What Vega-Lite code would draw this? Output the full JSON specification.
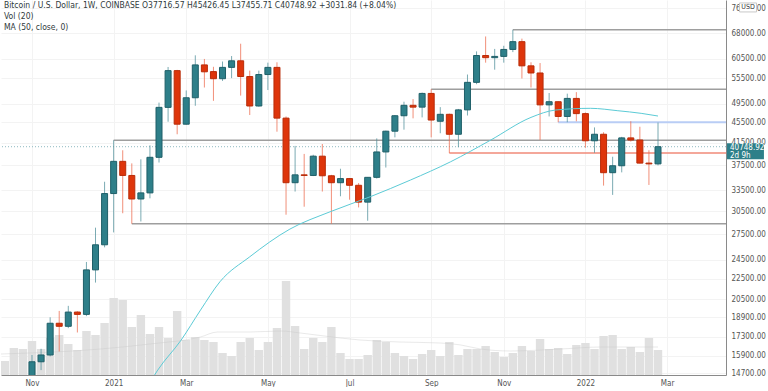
{
  "$schema": "https://vega.github.io/schema/vega-lite/v6.json",
  "width": 725,
  "height": 375,
  "padding": 0,
  "autosize": {"type": "pad"},
  "background": "white",
  "config": {
    "view": {"stroke": null},
    "font": "Liberation Sans Narrow, DejaVu Sans Condensed, Liberation Sans, sans-serif"
  },
  "title": {
    "text": "Bitcoin / U.S. Dollar, 1W, COINBASE  O37716.57  H45426.45  L37455.71  C40748.92  +3031.84 (+8.04%)",
    "subtitle": ["Vol (20)", "MA (50, close, 0)"],
    "anchor": "start",
    "frame": "group",
    "orient": "top",
    "offset": -31,
    "dx": 3,
    "fontSize": 8.5,
    "fontWeight": "normal",
    "color": "#2f3a3c",
    "subtitleFontSize": 8.5,
    "subtitleColor": "#2f3a3c",
    "subtitlePadding": 3,
    "subtitleLineHeight": 10.5,
    "font": "Liberation Sans Narrow, DejaVu Sans Condensed, Liberation Sans, sans-serif",
    "subtitleFont": "Liberation Sans Narrow, DejaVu Sans Condensed, Liberation Sans, sans-serif"
  },
  "datasets": {
    "candles": [
      {"date": "2020-11-02", "open": 13550, "high": 15950, "low": 13250, "close": 15470},
      {"date": "2020-11-09", "open": 15470, "high": 16400, "low": 14900, "close": 15950},
      {"date": "2020-11-16", "open": 15950, "high": 18900, "low": 15850, "close": 18400},
      {"date": "2020-11-23", "open": 18400, "high": 19450, "low": 16200, "close": 18150},
      {"date": "2020-11-30", "open": 18150, "high": 19900, "low": 18000, "close": 19350},
      {"date": "2020-12-07", "open": 19350, "high": 19420, "low": 17650, "close": 19150},
      {"date": "2020-12-14", "open": 19150, "high": 24250, "low": 19000, "close": 23400},
      {"date": "2020-12-21", "open": 23400, "high": 28300, "low": 22100, "close": 26200},
      {"date": "2020-12-28", "open": 26200, "high": 34800, "low": 25900, "close": 33000},
      {"date": "2021-01-04", "open": 33000, "high": 41950, "low": 27700, "close": 38150},
      {"date": "2021-01-11", "open": 38150, "high": 40100, "low": 30200, "close": 35800},
      {"date": "2021-01-18", "open": 35800, "high": 37800, "low": 28800, "close": 32200},
      {"date": "2021-01-25", "open": 32200, "high": 38500, "low": 29100, "close": 33100},
      {"date": "2021-02-01", "open": 33100, "high": 41000, "low": 32300, "close": 38850},
      {"date": "2021-02-08", "open": 38850, "high": 49700, "low": 37950, "close": 48650},
      {"date": "2021-02-15", "open": 48650, "high": 58350, "low": 45600, "close": 57400},
      {"date": "2021-02-22", "open": 57400, "high": 57600, "low": 43100, "close": 45100},
      {"date": "2021-03-01", "open": 45100, "high": 52500, "low": 45000, "close": 50800},
      {"date": "2021-03-08", "open": 50800, "high": 61500, "low": 49000, "close": 58900},
      {"date": "2021-03-15", "open": 58900, "high": 60500, "low": 53200, "close": 57100},
      {"date": "2021-03-22", "open": 57150, "high": 58400, "low": 50100, "close": 55350},
      {"date": "2021-03-29", "open": 55350, "high": 59800, "low": 54800, "close": 58250},
      {"date": "2021-04-05", "open": 58250, "high": 61300, "low": 55500, "close": 60000},
      {"date": "2021-04-12", "open": 60000, "high": 64800, "low": 51300, "close": 55900},
      {"date": "2021-04-19", "open": 55900, "high": 57400, "low": 47000, "close": 48950},
      {"date": "2021-04-26", "open": 48950, "high": 57400, "low": 48800, "close": 56400},
      {"date": "2021-05-03", "open": 56400, "high": 59500, "low": 52600, "close": 58250},
      {"date": "2021-05-10", "open": 58250, "high": 59600, "low": 43600, "close": 46350},
      {"date": "2021-05-17", "open": 46350, "high": 46700, "low": 30000, "close": 34650},
      {"date": "2021-05-24", "open": 34650, "high": 40900, "low": 33300, "close": 35900},
      {"date": "2021-05-31", "open": 35900, "high": 39450, "low": 31100, "close": 35800},
      {"date": "2021-06-07", "open": 35800, "high": 39300, "low": 35700, "close": 39050},
      {"date": "2021-06-14", "open": 39050, "high": 41250, "low": 33300, "close": 35750},
      {"date": "2021-06-21", "open": 35750, "high": 35900, "low": 28800, "close": 34650},
      {"date": "2021-06-28", "open": 34650, "high": 36900, "low": 32600, "close": 35300},
      {"date": "2021-07-05", "open": 35300, "high": 35400, "low": 32100, "close": 34250},
      {"date": "2021-07-12", "open": 34250, "high": 34600, "low": 31000, "close": 31750},
      {"date": "2021-07-19", "open": 31750, "high": 35550, "low": 29200, "close": 35500},
      {"date": "2021-07-26", "open": 35500, "high": 42300, "low": 35300, "close": 39800},
      {"date": "2021-08-02", "open": 39800, "high": 43800, "low": 37100, "close": 43700},
      {"date": "2021-08-09", "open": 43700, "high": 47000, "low": 42500, "close": 46850},
      {"date": "2021-08-16", "open": 46850, "high": 49900, "low": 44000, "close": 49100},
      {"date": "2021-08-23", "open": 49100, "high": 50500, "low": 46300, "close": 48700},
      {"date": "2021-08-30", "open": 48700, "high": 52000, "low": 46500, "close": 51800},
      {"date": "2021-09-06", "open": 51800, "high": 52800, "low": 42500, "close": 45950},
      {"date": "2021-09-13", "open": 45700, "high": 48700, "low": 43300, "close": 47150},
      {"date": "2021-09-20", "open": 47150, "high": 47300, "low": 39600, "close": 43100},
      {"date": "2021-09-27", "open": 43100, "high": 48300, "low": 40650, "close": 48100},
      {"date": "2021-10-04", "open": 48100, "high": 56400, "low": 46900, "close": 54450},
      {"date": "2021-10-11", "open": 54450, "high": 62600, "low": 54000, "close": 61450},
      {"date": "2021-10-18", "open": 61450, "high": 66950, "low": 59500, "close": 60850},
      {"date": "2021-10-25", "open": 60850, "high": 63300, "low": 57650, "close": 61200},
      {"date": "2021-11-01", "open": 61200, "high": 64200, "low": 59500, "close": 63150},
      {"date": "2021-11-08", "open": 63150, "high": 69000, "low": 62400, "close": 65400},
      {"date": "2021-11-15", "open": 65400, "high": 66300, "low": 55400, "close": 58650},
      {"date": "2021-11-22", "open": 58650, "high": 59600, "low": 53200, "close": 56800},
      {"date": "2021-11-29", "open": 56800, "high": 59400, "low": 42000, "close": 49200},
      {"date": "2021-12-06", "open": 49200, "high": 51900, "low": 46700, "close": 49900},
      {"date": "2021-12-13", "open": 49900, "high": 50000, "low": 45500, "close": 46700},
      {"date": "2021-12-20", "open": 46700, "high": 51750, "low": 45500, "close": 50650},
      {"date": "2021-12-27", "open": 50650, "high": 52100, "low": 45700, "close": 47300},
      {"date": "2022-01-03", "open": 47300, "high": 47550, "low": 40550, "close": 41850},
      {"date": "2022-01-10", "open": 41850, "high": 44450, "low": 39650, "close": 43100},
      {"date": "2022-01-17", "open": 43100, "high": 43500, "low": 34200, "close": 36250},
      {"date": "2022-01-24", "open": 36250, "high": 38950, "low": 32800, "close": 37400},
      {"date": "2022-01-31", "open": 37400, "high": 42600, "low": 36300, "close": 42400},
      {"date": "2022-02-07", "open": 42400, "high": 45700, "low": 41700, "close": 42000},
      {"date": "2022-02-14", "open": 42000, "high": 44580, "low": 37800, "close": 37850},
      {"date": "2022-02-21", "open": 37850, "high": 40100, "low": 34300, "close": 37716.57},
      {"date": "2022-02-28", "open": 37716.57, "high": 45426.45, "low": 37455.71, "close": 40748.92}
    ],
    "volume": [
      {"date": "2020-10-12", "volume": 56000}, {"date": "2020-10-19", "volume": 108000},
      {"date": "2020-10-26", "volume": 104000}, {"date": "2020-11-02", "volume": 136000},
      {"date": "2020-11-09", "volume": 104000}, {"date": "2020-11-16", "volume": 148000},
      {"date": "2020-11-23", "volume": 160000}, {"date": "2020-11-30", "volume": 124000},
      {"date": "2020-12-07", "volume": 100000}, {"date": "2020-12-14", "volume": 176000},
      {"date": "2020-12-21", "volume": 160000}, {"date": "2020-12-28", "volume": 208000},
      {"date": "2021-01-04", "volume": 308000}, {"date": "2021-01-11", "volume": 300000},
      {"date": "2021-01-18", "volume": 192000}, {"date": "2021-01-25", "volume": 240000},
      {"date": "2021-02-01", "volume": 164000}, {"date": "2021-02-08", "volume": 192000},
      {"date": "2021-02-15", "volume": 148000}, {"date": "2021-02-22", "volume": 256000},
      {"date": "2021-03-01", "volume": 140000}, {"date": "2021-03-08", "volume": 152000},
      {"date": "2021-03-15", "volume": 140000}, {"date": "2021-03-22", "volume": 132000},
      {"date": "2021-03-29", "volume": 88000}, {"date": "2021-04-05", "volume": 76000},
      {"date": "2021-04-12", "volume": 132000}, {"date": "2021-04-19", "volume": 148000},
      {"date": "2021-04-26", "volume": 100000}, {"date": "2021-05-03", "volume": 132000},
      {"date": "2021-05-10", "volume": 188000}, {"date": "2021-05-17", "volume": 376000},
      {"date": "2021-05-24", "volume": 196000}, {"date": "2021-05-31", "volume": 104000},
      {"date": "2021-06-07", "volume": 148000}, {"date": "2021-06-14", "volume": 132000},
      {"date": "2021-06-21", "volume": 192000}, {"date": "2021-06-28", "volume": 88000},
      {"date": "2021-07-05", "volume": 64000}, {"date": "2021-07-12", "volume": 64000},
      {"date": "2021-07-19", "volume": 80000}, {"date": "2021-07-26", "volume": 140000},
      {"date": "2021-08-02", "volume": 132000}, {"date": "2021-08-09", "volume": 88000},
      {"date": "2021-08-16", "volume": 76000}, {"date": "2021-08-23", "volume": 64000},
      {"date": "2021-08-30", "volume": 84000}, {"date": "2021-09-06", "volume": 100000},
      {"date": "2021-09-13", "volume": 76000}, {"date": "2021-09-20", "volume": 132000},
      {"date": "2021-09-27", "volume": 80000}, {"date": "2021-10-04", "volume": 104000},
      {"date": "2021-10-11", "volume": 104000}, {"date": "2021-10-18", "volume": 116000},
      {"date": "2021-10-25", "volume": 92000}, {"date": "2021-11-01", "volume": 72000},
      {"date": "2021-11-08", "volume": 88000}, {"date": "2021-11-15", "volume": 116000},
      {"date": "2021-11-22", "volume": 96000}, {"date": "2021-11-29", "volume": 144000},
      {"date": "2021-12-06", "volume": 104000}, {"date": "2021-12-13", "volume": 108000},
      {"date": "2021-12-20", "volume": 84000}, {"date": "2021-12-27", "volume": 120000},
      {"date": "2022-01-03", "volume": 128000}, {"date": "2022-01-10", "volume": 104000},
      {"date": "2022-01-17", "volume": 156000}, {"date": "2022-01-24", "volume": 160000},
      {"date": "2022-01-31", "volume": 104000}, {"date": "2022-02-07", "volume": 112000},
      {"date": "2022-02-14", "volume": 92000}, {"date": "2022-02-21", "volume": 148000},
      {"date": "2022-02-28", "volume": 100000}
    ],
    "vma": [
      {"date": "2020-10-09", "vma": 84000}, {"date": "2020-12-25", "vma": 104000},
      {"date": "2021-02-01", "vma": 124000}, {"date": "2021-03-12", "vma": 152000},
      {"date": "2021-03-25", "vma": 172000}, {"date": "2021-04-19", "vma": 172000},
      {"date": "2021-05-13", "vma": 176000}, {"date": "2021-05-28", "vma": 168000},
      {"date": "2021-06-28", "vma": 148000}, {"date": "2021-07-13", "vma": 140000},
      {"date": "2021-08-13", "vma": 132000}, {"date": "2021-09-13", "vma": 128000},
      {"date": "2021-09-29", "vma": 120000}, {"date": "2021-10-14", "vma": 104000},
      {"date": "2021-11-06", "vma": 96000}, {"date": "2021-12-15", "vma": 104000},
      {"date": "2022-01-15", "vma": 112000}, {"date": "2022-02-28", "vma": 112000}
    ],
    "ma": [
      {"date": "2021-02-01", "ma": 14100}, {"date": "2021-02-07", "ma": 14900},
      {"date": "2021-02-25", "ma": 17050}, {"date": "2021-03-12", "ma": 19520},
      {"date": "2021-03-27", "ma": 22180}, {"date": "2021-04-19", "ma": 24820},
      {"date": "2021-05-20", "ma": 28120}, {"date": "2021-06-20", "ma": 30400},
      {"date": "2021-07-21", "ma": 32530}, {"date": "2021-08-21", "ma": 35070},
      {"date": "2021-09-21", "ma": 38080}, {"date": "2021-10-22", "ma": 42000},
      {"date": "2021-11-22", "ma": 46500}, {"date": "2021-12-11", "ma": 48070},
      {"date": "2022-01-07", "ma": 48440}, {"date": "2022-01-28", "ma": 47920},
      {"date": "2022-02-15", "ma": 47360}, {"date": "2022-02-28", "ma": 46790}
    ],
    "levels": [
      {"start": "2021-11-08", "end": "2022-04-30", "price": 69000, "tier": "major"},
      {"start": "2021-09-06", "end": "2022-04-30", "price": 52800, "tier": "major"},
      {"start": "2021-01-04", "end": "2022-04-30", "price": 41950, "tier": "major"},
      {"start": "2021-01-18", "end": "2022-04-30", "price": 28800, "tier": "major"},
      {"start": "2021-09-20", "end": "2022-04-30", "price": 39600, "tier": "support"},
      {"start": "2021-12-13", "end": "2022-04-30", "price": 45500, "tier": "resistance"}
    ],
    "last": [
      {"price": 40748.92, "label": "40748.92", "countdown": "2d 9h", "currency": "USD"}
    ]
  },
  "layer": [
    {
      "layer": [
        {
          "data": {"name": "volume"},
          "mark": {"type": "bar", "size": 8.4, "color": "#e0e0e0", "clip": true},
          "encoding": {
            "x": {
              "field": "date", "type": "temporal",
              "scale": {"type": "utc", "padding": 0, "nice": false, "domain": [{"year": 2020, "month": 10, "date": 9, "hours": 2, "utc": true}, {"year": 2022, "month": 4, "date": 21, "hours": 11, "utc": true}]},
              "axis": {
                "values": [
                  {"year": 2020, "month": 11, "date": 2, "utc": true},
                  {"year": 2021, "month": 1, "date": 4, "utc": true},
                  {"year": 2021, "month": 3, "date": 1, "utc": true},
                  {"year": 2021, "month": 5, "date": 3, "utc": true},
                  {"year": 2021, "month": 7, "date": 5, "utc": true},
                  {"year": 2021, "month": 9, "date": 6, "utc": true},
                  {"year": 2021, "month": 11, "date": 1, "utc": true},
                  {"year": 2022, "month": 1, "date": 3, "utc": true},
                  {"year": 2022, "month": 3, "date": 7, "utc": true}
                ],
                "labelExpr": "utcFormat(datum.value, '%m') == '01' ? utcFormat(datum.value, '%Y') : utcFormat(datum.value, '%b')",
                "grid": true, "gridColor": "#f3f3f3", "ticks": false,
                "domainColor": "#8a8a8a", "labelColor": "#555", "labelFontSize": 8,
                "labelPadding": 4, "title": null, "labelFlush": false, "labelOverlap": false
              }
            },
            "y": {"field": "volume", "type": "quantitative", "scale": {"domain": [0, 1500000], "nice": false, "padding": 0}, "axis": null}
          }
        },
        {
          "data": {"name": "vma"},
          "mark": {"type": "line", "color": "#c8c8c8", "strokeWidth": 1, "opacity": 0.4, "interpolate": "monotone", "clip": true},
          "encoding": {
            "x": {"field": "date", "type": "temporal"},
            "y": {"field": "vma", "type": "quantitative"}
          }
        }
      ]
    },
    {
      "layer": [
        {
          "data": {"name": "levels"},
          "transform": [{"filter": "datum.tier == 'major'"}],
          "mark": {"type": "rule", "color": "#9e9e9e", "strokeWidth": 1.5, "clip": true},
          "encoding": {
            "x": {"field": "start", "type": "temporal"},
            "x2": {"field": "end"},
            "y": {
              "field": "price", "type": "quantitative",
              "scale": {"type": "log", "domain": [14575, 78900], "nice": false, "padding": 0},
              "axis": {
                "orient": "right", "title": null,
                "values": [14700, 15900, 17300, 18900, 20500, 22500, 24500, 27500, 30500, 33500, 37500, 41500, 45500, 49500, 55500, 60500, 68000, 76000],
                "format": ".2f", "grid": true, "gridColor": "#f3f3f3", "ticks": false,
                "domainColor": "#8a8a8a", "labelColor": "#555", "labelFontSize": 8, "labelPadding": 5
              }
            }
          }
        },
        {
          "data": {"name": "levels"},
          "transform": [{"filter": "datum.tier == 'support'"}],
          "mark": {"type": "rule", "color": "#f08a78", "strokeWidth": 1.5, "clip": true},
          "encoding": {
            "x": {"field": "start", "type": "temporal"},
            "x2": {"field": "end"},
            "y": {"field": "price", "type": "quantitative"}
          }
        },
        {
          "data": {"name": "levels"},
          "transform": [{"filter": "datum.tier == 'resistance'"}],
          "mark": {"type": "rule", "color": "#b9cdf5", "strokeWidth": 2, "clip": true},
          "encoding": {
            "x": {"field": "start", "type": "temporal"},
            "x2": {"field": "end"},
            "y": {"field": "price", "type": "quantitative"}
          }
        },
        {
          "data": {"name": "last"},
          "mark": {"type": "rule", "color": "#8fb9c0", "strokeWidth": 1, "strokeDash": [1, 2]},
          "encoding": {
            "y": {"field": "price", "type": "quantitative"}
          }
        },
        {
          "data": {"name": "candles"},
          "mark": {"type": "rule", "strokeWidth": 1, "opacity": 0.75, "clip": true},
          "encoding": {
            "x": {"field": "date", "type": "temporal"},
            "y": {"field": "low", "type": "quantitative"},
            "y2": {"field": "high"},
            "color": {"condition": {"test": "datum.close >= datum.open", "value": "#4f8f99"}, "value": "#ec6a4c"}
          }
        },
        {
          "data": {"name": "candles"},
          "mark": {"type": "bar", "size": 6, "strokeWidth": 1, "clip": true},
          "encoding": {
            "x": {"field": "date", "type": "temporal"},
            "y": {"field": "open", "type": "quantitative"},
            "y2": {"field": "close"},
            "fill": {"condition": {"test": "datum.close >= datum.open", "value": "#2e7f89"}, "value": "#de350b"},
            "stroke": {"condition": {"test": "datum.close >= datum.open", "value": "#1f5f68"}, "value": "#b82c09"}
          }
        },
        {
          "data": {"name": "ma"},
          "mark": {"type": "line", "color": "#5ccbd6", "strokeWidth": 1, "interpolate": "monotone", "clip": true},
          "encoding": {
            "x": {"field": "date", "type": "temporal"},
            "y": {"field": "ma", "type": "quantitative"}
          }
        },
        {
          "data": {"name": "last"},
          "mark": {"type": "tick", "orient": "horizontal", "size": 37, "thickness": 16, "color": "#2e7f89", "opacity": 1, "yOffset": 4.6},
          "encoding": {
            "x": {"datum": {"year": 2022, "month": 5, "date": 6, "hours": 11, "utc": true}, "type": "temporal"},
            "y": {"field": "price", "type": "quantitative"}
          }
        },
        {
          "data": {"name": "last"},
          "mark": {"type": "text", "align": "left", "baseline": "middle", "color": "white", "fontSize": 8, "yOffset": 1},
          "encoding": {
            "x": {"datum": {"year": 2022, "month": 4, "date": 24, "hours": 13, "utc": true}, "type": "temporal"},
            "y": {"field": "price", "type": "quantitative"},
            "text": {"field": "label"}
          }
        },
        {
          "data": {"name": "last"},
          "mark": {"type": "text", "align": "left", "baseline": "middle", "color": "white", "fontSize": 8, "yOffset": 9},
          "encoding": {
            "x": {"datum": {"year": 2022, "month": 4, "date": 24, "hours": 13, "utc": true}, "type": "temporal"},
            "y": {"field": "price", "type": "quantitative"},
            "text": {"field": "countdown"}
          }
        },
        {
          "data": {"name": "last"},
          "mark": {"type": "tick", "orient": "horizontal", "size": 17, "thickness": 9, "fill": "white", "stroke": "#c8c8c8", "strokeWidth": 1, "opacity": 1},
          "encoding": {
            "x": {"datum": {"year": 2022, "month": 5, "date": 8, "hours": 11, "utc": true}, "type": "temporal"},
            "y": {"datum": 76300, "type": "quantitative"}
          }
        },
        {
          "data": {"name": "last"},
          "mark": {"type": "text", "align": "center", "baseline": "middle", "color": "#333", "fontSize": 7},
          "encoding": {
            "x": {"datum": {"year": 2022, "month": 5, "date": 8, "hours": 11, "utc": true}, "type": "temporal"},
            "y": {"datum": 76300, "type": "quantitative"},
            "text": {"field": "currency"}
          }
        }
      ]
    }
  ],
  "resolve": {"scale": {"y": "independent"}}
}
